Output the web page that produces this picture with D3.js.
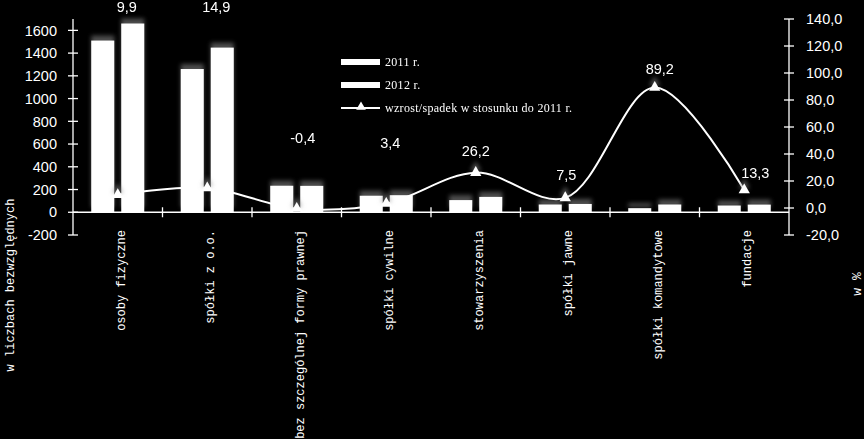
<!DOCTYPE html>
<html><head><meta charset="utf-8">
<script src="https://cdn.jsdelivr.net/npm/d3@7"></script>
<style>html,body{margin:0;padding:0;background:#000;overflow:hidden}</style>
</head><body>
<svg id="chart" width="864" height="439"></svg>
<script>
// ---- data ----
const categories = ["osoby fizyczne","spółki z o.o.","bez szczególnej formy prawnej","spółki cywilne","stowarzyszenia","spółki jawne","spółki komandytowe","fundacje"];
const values2011 = [1510,1260,233,145,107,68,36,59];
const values2012 = [1660,1448,232,150,135,73,68,67];
const changePct = [9.9,14.9,-0.4,3.4,26.2,7.5,89.2,13.3];
const changeLabels = ["9,9","14,9","-0,4","3,4","26,2","7,5","89,2","13,3"];
const leftTicks = [-200,0,200,400,600,800,1000,1200,1400,1600];
const rightTicks = [-20,0,20,40,60,80,100,120,140];
const seriesNames = ["2011 r.","2012 r.","wzrost/spadek w stosunku do 2011 r."];
const leftTitle = "w liczbach bezwzględnych";
const rightTitle = "w %";

// ---- layout (not data) ----
const labelNudge = [[9,-188],[9,-181],[6,-71],[4,-61],[0,-22],[1,-23],[5,-19],[11,-17]];

const svg = d3.select("#chart");
const defs = svg.append("defs");
const f = defs.append("filter").attr("id","glow").attr("x","-30%").attr("y","-60%").attr("width","160%").attr("height","200%");
f.append("feOffset").attr("in","SourceAlpha").attr("dy",-5).attr("result","off");
f.append("feGaussianBlur").attr("in","off").attr("stdDeviation",2).attr("result","bl");
f.append("feFlood").attr("flood-color","#808080").attr("flood-opacity",0.6);
f.append("feComposite").attr("in2","bl").attr("operator","in").attr("result","sh");
const m = f.append("feMerge");
m.append("feMergeNode").attr("in","sh");
m.append("feMergeNode").attr("in","SourceGraphic");

const x0 = 73, x1 = 789, yTop = 19, yBot = 235;
const x = d3.scaleBand().domain(categories).range([x0,x1]).paddingInner(0).paddingOuter(0);
const xs = d3.scaleBand().domain(["2011","2012"]).range([0,x.bandwidth()]).paddingInner(0.233).paddingOuter(0.608);
const yL = d3.scaleLinear().domain([-200,1700]).range([yBot,yTop]);
const yR = d3.scaleLinear().domain([-20,140]).range([yBot,yTop]);

const sansFont = "'Liberation Sans', Arial, sans-serif";
const monoFont = "'Liberation Mono', 'Courier New', monospace";
const serifFont = "'Liberation Serif', 'Times New Roman', serif";

// bars
const barG = svg.append("g").attr("filter","url(#glow)");
[["2011",values2011],["2012",values2012]].forEach(([k,vals])=>{
  barG.selectAll(null).data(categories).enter().append("rect")
    .attr("x",d=>x(d)+xs(k)).attr("width",xs.bandwidth())
    .attr("y",(d,i)=>yL(Math.max(0,vals[i])))
    .attr("height",(d,i)=>Math.abs(yL(vals[i])-yL(0)))
    .attr("fill","#fff");
});

// left axis
const axL = svg.append("g").attr("transform",`translate(${x0},0)`);
axL.append("line").attr("x1",0).attr("x2",0).attr("y1",yTop).attr("y2",yBot).attr("stroke","#fff").attr("stroke-width",1.3);
axL.selectAll(".t").data(leftTicks).enter().append("line")
  .attr("x1",-5).attr("x2",5).attr("y1",d=>yL(d)).attr("y2",d=>yL(d)).attr("stroke","#fff").attr("stroke-width",1.3);
axL.selectAll("text").data(leftTicks).enter().append("text")
  .attr("x",-16).attr("y",d=>yL(d)).attr("dy","0.36em").attr("text-anchor","end")
  .attr("fill","#fff").attr("font-family",sansFont).attr("font-size",14.5).text(d=>d);

// right axis
const axR = svg.append("g").attr("transform",`translate(${x1},0)`);
axR.append("line").attr("x1",0).attr("x2",0).attr("y1",yTop).attr("y2",yBot).attr("stroke","#fff").attr("stroke-width",1.3);
axR.selectAll(".t").data(rightTicks).enter().append("line")
  .attr("x1",-5).attr("x2",5).attr("y1",d=>yR(d)).attr("y2",d=>yR(d)).attr("stroke","#fff").attr("stroke-width",1.3);
axR.selectAll("text").data(rightTicks).enter().append("text")
  .attr("x",17).attr("y",d=>yR(d)).attr("dy","0.36em").attr("text-anchor","start")
  .attr("fill","#fff").attr("font-family",sansFont).attr("font-size",14.5).text(d=>d.toFixed(1).replace(".",","));

// x axis
const y0 = yL(0);
svg.append("line").attr("x1",x0).attr("x2",x1).attr("y1",y0).attr("y2",y0).attr("stroke","#fff").attr("stroke-width",1.3);
const bounds = categories.map(c=>x(c)).slice(1);
svg.selectAll(".xt").data(bounds).enter().append("line")
  .attr("x1",d=>d).attr("x2",d=>d).attr("y1",y0-5).attr("y2",y0+5).attr("stroke","#fff").attr("stroke-width",1.3);
svg.selectAll(".xl").data(categories).enter().append("text")
  .attr("transform",d=>`translate(${x(d)+x.bandwidth()/2+7},230) rotate(-90)`)
  .attr("text-anchor","end").attr("fill","#fff").attr("font-family",monoFont).attr("font-size",12).text(d=>d);

// line
const pts = categories.map((c,i)=>[x(c)+x.bandwidth()/2, yR(changePct[i])]);
svg.append("path").attr("d",d3.line().curve(d3.curveCatmullRom.alpha(0.5))(pts))
  .attr("fill","none").attr("stroke","#fff").attr("stroke-width",2);
const tri = d3.symbol().type(d3.symbolTriangle).size(55);
svg.append("g").attr("filter","url(#glow)").selectAll("path").data(pts).enter().append("path")
  .attr("d",tri).attr("transform",d=>`translate(${d[0]},${d[1]})`).attr("fill","#fff");

// data labels
svg.selectAll(".dl").data(pts).enter().append("text")
  .attr("x",(d,i)=>d[0]+labelNudge[i][0]).attr("y",(d,i)=>d[1]+labelNudge[i][1])
  .attr("dy","0.36em").attr("text-anchor","middle").attr("fill","#fff")
  .attr("font-family",sansFont).attr("font-size",14.5).text((d,i)=>changeLabels[i]);

// legend
const lg = svg.append("g").attr("transform","translate(341,0)");
const rows = [62,85,108];
lg.append("rect").attr("x",0).attr("y",rows[0]-3).attr("width",39).attr("height",6).attr("fill","#fff");
lg.append("rect").attr("x",0).attr("y",rows[1]-3).attr("width",39).attr("height",6).attr("fill","#fff");
lg.append("line").attr("x1",0).attr("x2",39).attr("y1",rows[2]).attr("y2",rows[2]).attr("stroke","#fff").attr("stroke-width",2);
lg.append("path").attr("d",d3.symbol().type(d3.symbolTriangle).size(40)).attr("transform",`translate(20,${rows[2]-1})`).attr("fill","#fff");
lg.selectAll("text").data(seriesNames).enter().append("text")
  .attr("x",44).attr("y",(d,i)=>rows[i]).attr("dy","0.33em").attr("fill","#fff")
  .attr("font-family",serifFont).attr("font-size",12).attr("letter-spacing",0.3).text(d=>d);

// axis titles
svg.append("text").attr("transform","translate(14,285) rotate(-90)").attr("text-anchor","middle")
  .attr("fill","#fff").attr("font-family",monoFont).attr("font-size",12).text(leftTitle);
svg.append("text").attr("transform","translate(861,284) rotate(-90)").attr("text-anchor","middle")
  .attr("fill","#fff").attr("font-family",monoFont).attr("font-size",13).text(rightTitle);
</script>
</body></html>
